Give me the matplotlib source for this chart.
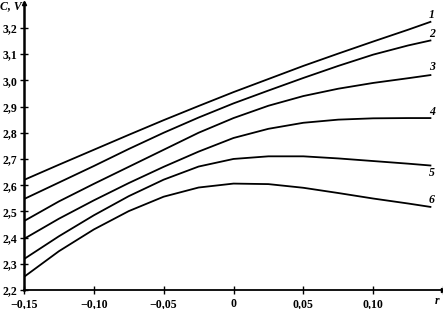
import matplotlib.pyplot as plt
import numpy as np
from matplotlib.ticker import FuncFormatter, MultipleLocator

r = [-0.15, -0.125, -0.10, -0.075, -0.05, -0.025, 0.0,
     0.025, 0.05, 0.075, 0.10, 0.125, 0.141]

curve_1 = [2.620, 2.678, 2.735, 2.792, 2.848, 2.902, 2.955,
           3.005, 3.055, 3.102, 3.148, 3.193, 3.223]
curve_2 = [2.547, 2.610, 2.673, 2.738, 2.800, 2.858, 2.912,
           2.961, 3.009, 3.055, 3.098, 3.133, 3.152]
curve_3 = [2.463, 2.538, 2.605, 2.670, 2.735, 2.800, 2.856,
           2.903, 2.940, 2.968, 2.990, 3.008, 3.020]
curve_4 = [2.395, 2.472, 2.542, 2.608, 2.670, 2.728, 2.780,
           2.815, 2.838, 2.850, 2.855, 2.856, 2.856]
curve_5 = [2.318, 2.405, 2.485, 2.558, 2.621, 2.671, 2.700,
           2.710, 2.710, 2.702, 2.692, 2.682, 2.675]
curve_6 = [2.250, 2.348, 2.431, 2.501, 2.556, 2.591, 2.606,
           2.604, 2.590, 2.570, 2.549, 2.530, 2.517]

curves = [curve_1, curve_2, curve_3, curve_4, curve_5, curve_6]
curve_labels = ["1", "2", "3", "4", "5", "6"]
# label sits above the line end, except for 5 which sits below it
label_offsets = [0.025, 0.025, 0.03, 0.025, -0.03, 0.025]

plt.rcParams["font.family"] = ["Liberation Serif", "DejaVu Serif"]
plt.rcParams["font.weight"] = "bold"

fig = plt.figure(figsize=(4.43, 3.09), dpi=100)
ax = fig.add_axes([24 / 443, 19 / 309, 419 / 443, 287 / 309])

for values in curves:
    ax.plot(r, values, color="black", linewidth=1.3, solid_joinstyle="round")

for values, text, dy in zip(curves, curve_labels, label_offsets):
    ax.text(r[-1] - 0.001, values[-1] + dy, text, fontsize=8.5, style="italic",
            fontweight="bold", ha="left", va="center")

ax.set_xlim(-0.15, 0.150)
ax.set_ylim(2.2, 3.295)

for side in ("top", "right"):
    ax.spines[side].set_visible(False)
ax.spines["left"].set_linewidth(1.8)
ax.spines["bottom"].set_linewidth(1.3)

# arrow heads on both axes
ax.plot(1, 0, ">k", markersize=3, transform=ax.transAxes, clip_on=False)
ax.plot(0, 1, "^k", markersize=3, transform=ax.transAxes, clip_on=False)

ax.xaxis.set_major_locator(MultipleLocator(0.05))
ax.yaxis.set_major_locator(MultipleLocator(0.1))


def comma_x(v, pos):
    if abs(v) < 1e-9:
        return "0"
    if v > 0.1201:
        return ""
    return f"{v:.2f}".replace(".", ",").replace("-", "\u2212")


def comma_y(v, pos):
    if v > 3.25:
        return ""
    return f"{v:.1f}".replace(".", ",")


ax.xaxis.set_major_formatter(FuncFormatter(comma_x))
ax.yaxis.set_major_formatter(FuncFormatter(comma_y))
ax.tick_params(direction="inout", length=6, width=1.0, labelsize=8.5, pad=2)
ax.tick_params(axis="x", pad=3)

fig.text(0 / 443, 1 - 6 / 309, "C, V", fontsize=8.5, style="italic",
         fontweight="bold", ha="left", va="center")
fig.text(435 / 443, 1 - 301 / 309, "r", fontsize=8.5, style="italic",
         fontweight="bold", ha="left", va="center")

fig.savefig("out.png", dpi=100)
